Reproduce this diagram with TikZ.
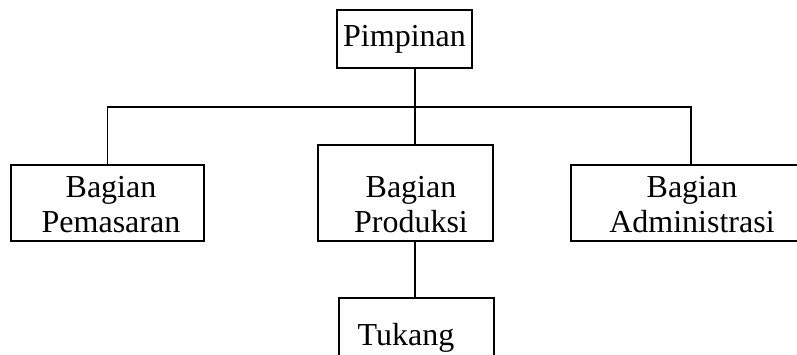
\documentclass[tikz,border=0pt]{standalone}
\usepackage{fontspec}
\setmainfont{Liberation Serif}
\begin{document}
\begin{tikzpicture}[x=0.75pt, y=-0.75pt, line width=1pt]
				\tikzset{
					unitbox/.style={draw, inner sep=0pt},
					unittext/.style={inner sep=0pt, align=center, font=\fontsize{24}{26.25}\selectfont}
				}
				\useasboundingbox (0,0) rectangle (797,354);
				\clip (0,0) rectangle (797,354);
				% kotak pimpinan
				\node[unitbox, unittext, minimum width=101.25pt, minimum height=43.5pt] (pim) at (404.5,39) {\strut Pimpinan};
				% kotak bagian
				\node[unitbox, minimum width=144.75pt, minimum height=57pt] (pem) at (107.5,203) {};
				\node[unitbox, minimum width=131.25pt, minimum height=72pt] (prod) at (405.5,193) {};
				\node[unitbox, minimum width=180pt, minimum height=57pt] (adm) at (691,203) {};
				\node[unitbox, minimum width=116.25pt, minimum height=76.5pt] (tuk) at (416.5,349) {};
				\node[unittext] (pemtext) at (111,207.6) {\strut Bagian\\\strut Pemasaran};
				\node[unittext] (prodtext) at (411,207.6) {\strut Bagian\\\strut Produksi};
				\node[unittext] (admtext) at (692,207.6) {\strut Bagian\\\strut Administrasi};
				\node[unittext] (tuktext) at (406,338) {\strut Tukang};
				% garis penghubung
				\coordinate (bus) at (415,107);
				\draw (pim.south -| bus) -- (bus);
				\draw (pem.north) |- (bus) -| (adm.north);
				\draw (bus) -- (prod.north -| bus);
				\draw (prod.south -| bus) -- (tuk.north -| bus);
			\end{tikzpicture}
\end{document}
